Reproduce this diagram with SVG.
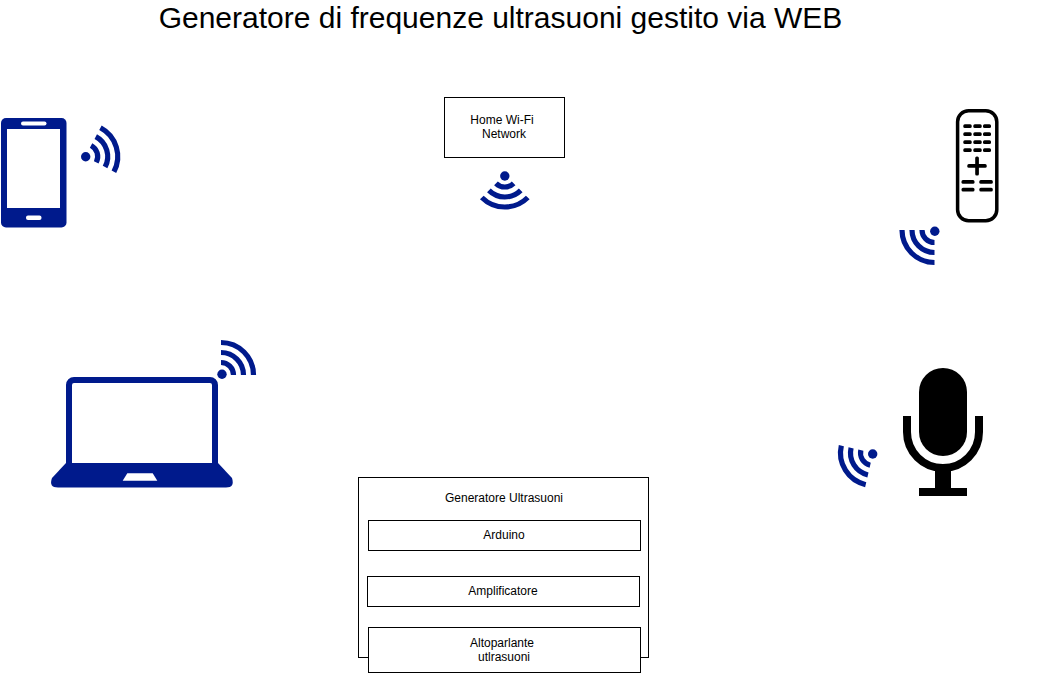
<svg xmlns="http://www.w3.org/2000/svg" width="1041" height="673" viewBox="0 0 1041 673">
<style>
.box{fill:#fff;stroke:#000;stroke-width:1}
text{font-family:"Liberation Sans",Arial,sans-serif;fill:#000;text-anchor:middle}
.l{font-size:12px}
.t{font-size:30px}
.blue{fill:#001a8c}
.arc{fill:none;stroke:#001a8c;stroke-width:5.2}
.blk{fill:#000}
</style>
<defs>
<g id="waves">
<path class="arc" d="M0-12.500A12.500 12.500 0 0 1 12.500 0"/>
<path class="arc" d="M0-22.500A22.500 22.500 0 0 1 22.500 0"/>
<path class="arc" d="M0-32.500A32.500 32.500 0 0 1 32.500 0"/>
</g>
</defs>
<text id="title" class="t" x="500.5" y="28">Generatore di frequenze ultrasuoni gestito via WEB</text>
<g id="home-network">
<rect class="box" x="444.5" y="97.5" width="120" height="60"/>
<text class="l" x="502" y="124">Home Wi-Fi</text>
<text class="l" x="504" y="138">Network</text>
<circle class="blue" cx="504.800" cy="176" r="4.700"/>
<use href="#waves" transform="translate(504.800 174.500) rotate(135)"/>
</g>
<g id="smartphone">
<rect class="blue" x="1" y="118" width="65.500" height="109.500" rx="5"/>
<rect x="7" y="129" width="53" height="79" fill="#fff"/>
<rect x="21" y="121.500" width="25.500" height="4" rx="2" fill="#fff"/>
<rect x="26" y="215.500" width="15.500" height="4.500" rx="2" fill="#fff"/>
<circle class="blue" cx="85.700" cy="156.700" r="4.700"/>
<use href="#waves" transform="translate(85.200 156.500) rotate(28)"/>
</g>
<g id="remote">
<rect x="957.600" y="110.800" width="39.200" height="110" rx="11" fill="#fff" stroke="#000" stroke-width="3.500"/>
<g class="blk">
<rect x="963.300" y="124.200" width="8.400" height="3.700" rx="1.500"/><rect x="973.300" y="124.200" width="8.400" height="3.700" rx="1.500"/><rect x="983" y="124.200" width="8" height="3.700" rx="1.500"/>
<rect x="963.300" y="132.200" width="8.400" height="3.700" rx="1.500"/><rect x="973.300" y="132.200" width="8.400" height="3.700" rx="1.500"/><rect x="983" y="132.200" width="8" height="3.700" rx="1.500"/>
<rect x="963.300" y="140.200" width="8.400" height="3.700" rx="1.500"/><rect x="973.300" y="140.200" width="8.400" height="3.700" rx="1.500"/><rect x="983" y="140.200" width="8" height="3.700" rx="1.500"/>
<rect x="963.300" y="148.200" width="8.400" height="3.700" rx="1.500"/><rect x="973.300" y="148.200" width="8.400" height="3.700" rx="1.500"/><rect x="983" y="148.200" width="8" height="3.700" rx="1.500"/>
<rect x="967.300" y="164" width="19.400" height="3.700" rx="1.500"/><rect x="975.200" y="156.500" width="3.700" height="19" rx="1.500"/>
<rect x="961.500" y="180" width="13" height="3.700" rx="1.500"/><rect x="979.300" y="180" width="13.500" height="3.700" rx="1.500"/>
<rect x="961.500" y="187.700" width="13" height="3.700" rx="1.500"/><rect x="979.300" y="187.700" width="13.500" height="3.700" rx="1.500"/>
</g>
<circle class="blue" cx="934.800" cy="231.300" r="4.700"/>
<use href="#waves" transform="translate(934.500 230) rotate(180)"/>
</g>
<g id="laptop">
<rect x="69" y="380" width="146" height="90" rx="5" fill="#fff" stroke="#001a8c" stroke-width="6"/>
<path class="blue" d="M66 463H218L232 478Q235 487.500 226 487.500H58Q48.500 487.500 52 478Z"/>
<path d="M127.300 473.300H152.700L157.300 480.700H122.700Z" fill="#fff"/>
<circle class="blue" cx="222" cy="374.200" r="4.700"/>
<use href="#waves" transform="translate(221 375)"/>
</g>
<g id="microphone">
<rect class="blk" x="919" y="368" width="48" height="88" rx="24"/>
<path d="M907 416V432A36 36 0 0 0 979 432V416" fill="none" stroke="#000" stroke-width="8"/>
<rect class="blk" x="935" y="468" width="16" height="22"/>
<rect class="blk" x="919" y="488" width="48" height="8"/>
<circle class="blue" cx="872.700" cy="454" r="4.700"/>
<use href="#waves" transform="translate(873 453) rotate(193)"/>
</g>
<g id="generator">
<rect class="box" x="358.500" y="477.500" width="290" height="180"/>
<text class="l" x="504" y="502">Generatore Ultrasuoni</text>
</g>
<g id="arduino">
<rect class="box" x="368.500" y="520.500" width="272" height="30"/>
<text class="l" x="504" y="539">Arduino</text>
</g>
<g id="amplifier">
<rect class="box" x="367.500" y="576.500" width="272" height="30"/>
<text class="l" x="503" y="595">Amplificatore</text>
</g>
<g id="speaker">
<rect class="box" x="368.500" y="627.500" width="272" height="45"/>
<text class="l" x="502" y="646.500">Altoparlante</text>
<text class="l" x="504" y="661">utlrasuoni</text>
</g>
<g id="connectors"/>
</svg>
